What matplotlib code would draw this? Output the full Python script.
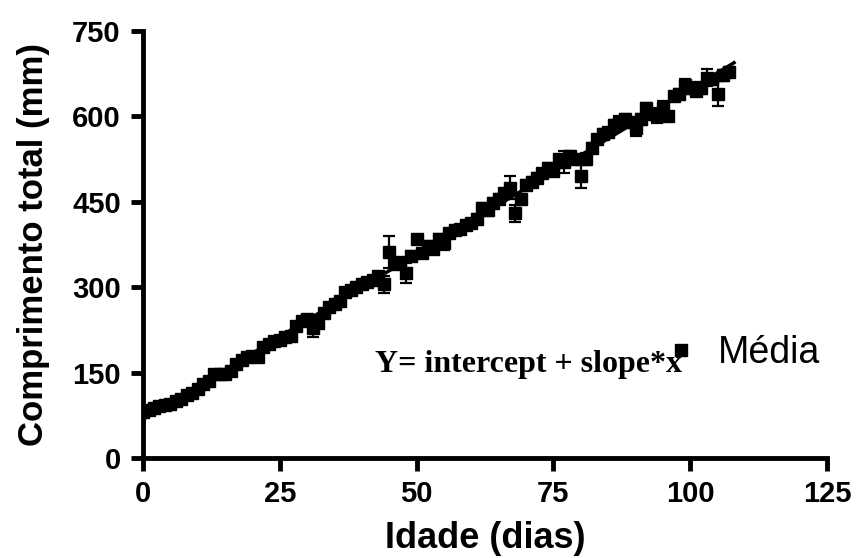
import matplotlib
matplotlib.use('Agg')
import matplotlib.pyplot as plt
import numpy as np
from matplotlib.lines import Line2D

# idade (dias) e comprimento medio (mm)
idade = list(range(0, 108))
comprimento = [
    80, 84, 87, 91, 93, 95, 100, 104, 110, 115,
    121, 130, 136, 148, 148, 147, 152, 165, 172, 178,
    180, 178, 195, 200, 205, 208, 212, 214, 232, 240,
    245, 228, 238, 255, 265, 270, 275, 292, 295, 300,
    305, 310, 312, 320, 305, 362, 340, 345, 325, 355,
    385, 360, 372, 368, 385, 378, 395, 400, 403, 410,
    412, 420, 440, 435, 448, 455, 465, 475, 430, 455,
    480, 485, 492, 500, 510, 505, 525, 520, 530, 525,
    495, 525, 545, 560, 570, 573, 585, 590, 595, 590,
    580, 595, 615, 605, 600, 615, 600, 635, 640, 655,
    650, 645, 650, 668, 665, 640, 672, 678,
]
erro = [
    2, 2, 2, 2, 2, 2, 3, 3, 3, 3,
    3, 3, 3, 4, 3, 4, 4, 3, 4, 4,
    4, 4, 4, 4, 4, 5, 5, 5, 5, 5,
    5, 16, 10, 5, 5, 5, 5, 5, 5, 6,
    6, 6, 6, 6, 15, 28, 8, 6, 18, 8,
    6, 8, 10, 6, 8, 12, 6, 6, 6, 6,
    6, 8, 8, 10, 8, 8, 8, 20, 15, 8,
    8, 8, 8, 8, 8, 8, 8, 20, 10, 8,
    20, 10, 8, 6, 8, 6, 8, 10, 10, 8,
    15, 10, 8, 10, 12, 12, 8, 8, 8, 10,
    10, 8, 10, 15, 10, 22, 10, 8,
]

x = np.array(idade)
y = np.array(comprimento)
slope, intercept = np.polyfit(x, y, 1)

plt.rcParams['font.family'] = ['Liberation Sans', 'DejaVu Sans']
fig = plt.figure(figsize=(8.58, 5.58), dpi=100)
ax = fig.add_axes([0.1667, 0.1792, 0.7972, 0.7652])

ax.errorbar(x, y, yerr=erro, fmt='s', color='black', ms=8, ecolor='black',
            elinewidth=1.6, capsize=4.5, capthick=1.6, zorder=3)
xf = np.array([x.min(), x.max() + 1])
ax.plot(xf, intercept + slope*xf, color='black', lw=2.5, zorder=4)

ax.set_xlim(0, 125)
ax.set_ylim(0, 750)
ax.set_xticks([0, 25, 50, 75, 100, 125])
ax.set_yticks([0, 150, 300, 450, 600, 750])
for s in ['top', 'right']:
    ax.spines[s].set_visible(False)
for s in ['left', 'bottom']:
    ax.spines[s].set_linewidth(3.5)
ax.tick_params(axis='both', width=3.5, length=9, labelsize=21, pad=7)
for lab in ax.get_xticklabels() + ax.get_yticklabels():
    lab.set_fontweight('bold')

ax.set_xlabel('Idade (dias)', fontsize=26, fontweight='bold', labelpad=9)
ax.set_ylabel('Comprimento total (mm)', fontsize=25, fontweight='bold', labelpad=16)

ax.text(0.339, 0.201, 'Y= intercept + slope*x', transform=ax.transAxes,
        fontsize=23, fontweight='bold', va='baseline',
        family=['Liberation Serif', 'DejaVu Serif'])
h = Line2D([], [], marker='s', color='black', ls='none', ms=8)
ax.legend([h], ['Média'], loc='center left', bbox_to_anchor=(0.764, 0.246),
          frameon=False, fontsize=27, handletextpad=0.6, handlelength=0.8,
          borderpad=0, borderaxespad=0)

plt.savefig('out.png', dpi=100)
